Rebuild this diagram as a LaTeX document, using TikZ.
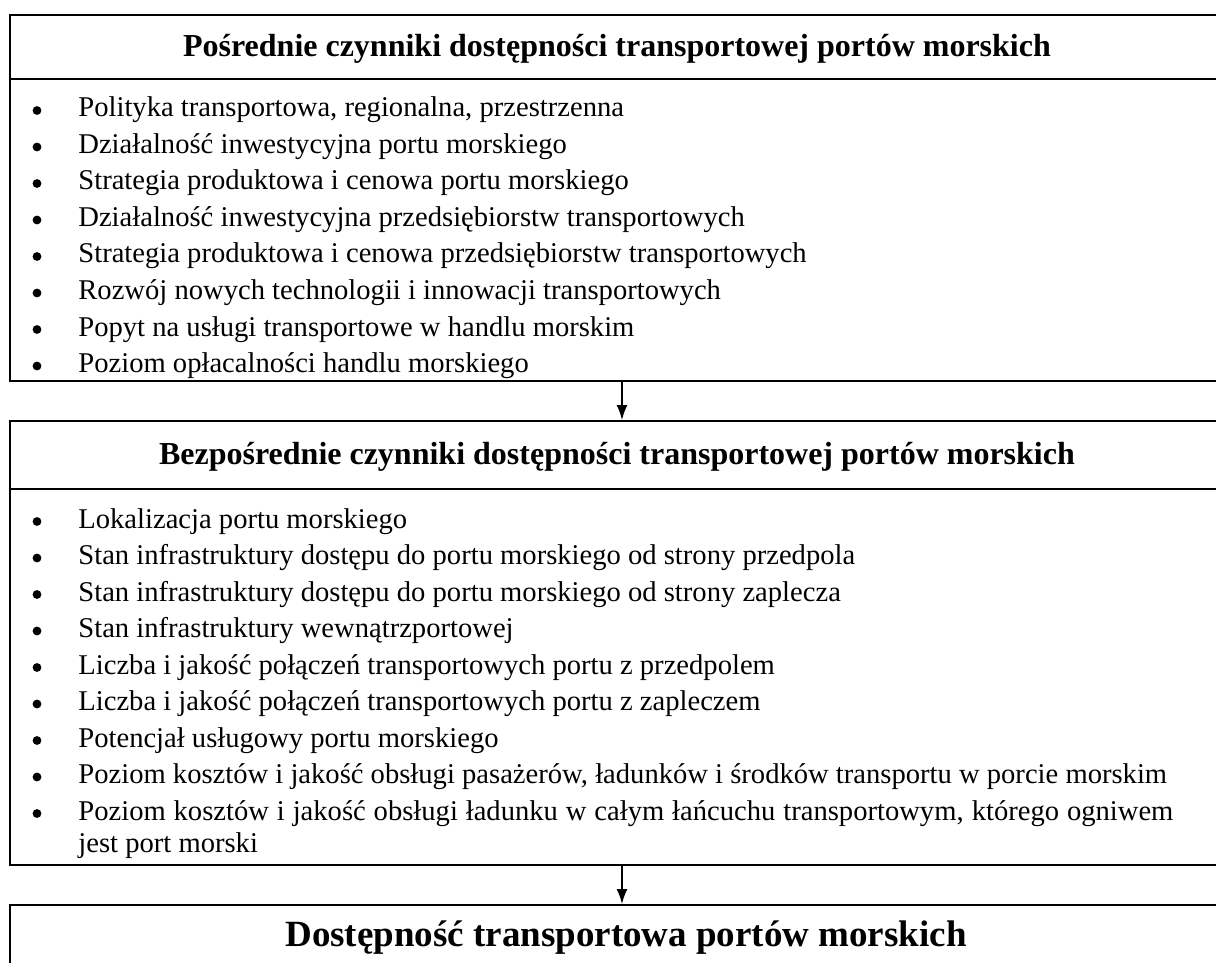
\documentclass[tikz,border=0pt]{standalone}
\usepackage{fontspec}
\setmainfont{Liberation Serif}
\usetikzlibrary{arrows.meta}

\begin{document}
\begin{tikzpicture}[x=0.5pt,y=-0.5pt,
    frame/.style={draw,line width=1pt,rectangle,minimum width=610pt,inner sep=0pt},
    head/.style={font=\fontsize{16}{19}\selectfont\bfseries,inner sep=0pt,anchor=base},
    item/.style={font=\fontsize{14.3}{16}\selectfont,inner sep=0pt,anchor=base west},
    dot/.style={circle,fill,inner sep=0pt,minimum size=4.4pt},
    arr/.style={-{Latex[length=7.5pt,width=5.5pt]},line width=0.8pt}]
  \useasboundingbox (0,0) rectangle (1216,963);
  \clip (0,0) rectangle (1216,963);

  % indirect factors
  \node[frame,minimum height=32pt] (indhead) at (620,47) {};
  \node[frame,minimum height=151pt] (indbody) at (620,230) {};
  \node[head] (indtitle) at (617,56.7) {Pośrednie czynniki dostępności transportowej portów morskich};
  \foreach \t [count=\i] in {{Polityka transportowa, regionalna, przestrzenna},
      Działalność inwestycyjna portu morskiego,
      Strategia produktowa i cenowa portu morskiego,
      Działalność inwestycyjna przedsiębiorstw transportowych,
      Strategia produktowa i cenowa przedsiębiorstw transportowych,
      Rozwój nowych technologii i innowacji transportowych,
      Popyt na usługi transportowe w handlu morskim,
      Poziom opłacalności handlu morskiego} {
    \pgfmathsetmacro\y{117+36.5*(\i-1)}
    \node[dot] (inddot\i) at (37,{\y-6.5}) {};
    \node[item] (inditem\i) at (78,\y) {\t};
  }

  % direct factors
  \node[frame,minimum height=34pt] (dirhead) at (620,455) {};
  \node[frame,minimum height=188pt] (dirbody) at (620,677) {};
  \node[head] (dirtitle) at (617,464.7) {Bezpośrednie czynniki dostępności transportowej portów morskich};
  \foreach \t [count=\i] in {Lokalizacja portu morskiego,
      Stan infrastruktury dostępu do portu morskiego od strony przedpola,
      Stan infrastruktury dostępu do portu morskiego od strony zaplecza,
      Stan infrastruktury wewnątrzportowej,
      Liczba i jakość połączeń transportowych portu z przedpolem,
      Liczba i jakość połączeń transportowych portu z zapleczem,
      Potencjał usługowy portu morskiego,
      {Poziom kosztów i jakość obsługi pasażerów, ładunków i środków transportu w porcie morskim}} {
    \pgfmathsetmacro\y{528+36.5*(\i-1)}
    \node[dot] (dirdot\i) at (37,{\y-6.5}) {};
    \node[item] (diritem\i) at (78,\y) {\t};
  }
  \node[dot] (dirdot9) at (37,813.5) {};
  \node[item,text width=547.5pt,align=justify] (diritem9) at (78,820)
    {Poziom kosztów i jakość obsługi ładunku w całym łańcuchu transportowym, którego ogniwem\linebreak jest port morski};

  % result
  \node[frame,minimum height=60pt] (result) at (620,965) {};
  \node[head,font=\fontsize{18.5}{22}\selectfont\bfseries] (restitle) at (626,946.7) {Dostępność transportowa portów morskich};

  \coordinate (ax) at (622,0);
  \draw[arr] (indbody.south -| ax) -- (dirhead.north -| ax);
  \draw[arr] (dirbody.south -| ax) -- (result.north -| ax);
\end{tikzpicture}
\end{document}
